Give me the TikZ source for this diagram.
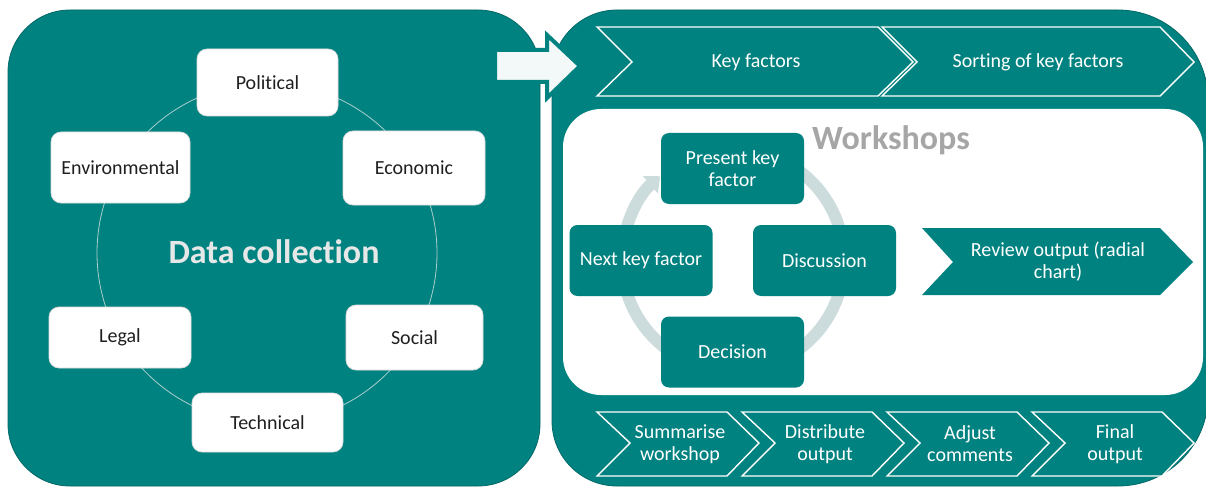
\documentclass[tikz,border=0pt]{standalone}
\usepackage{fontspec}
\setmainfont{Carlito}[Ligatures=CommonOff]
\usetikzlibrary{arrows.meta}
\definecolor{teal1}{RGB}{0,130,128}
\definecolor{tealdark}{RGB}{0,104,102}
\definecolor{ringgray}{RGB}{204,220,220}
\definecolor{circlegray}{RGB}{170,208,206}
\definecolor{wsgray}{RGB}{166,166,166}
\definecolor{dcgray}{RGB}{230,232,232}
\definecolor{arrowfill}{RGB}{243,248,248}
\begin{document}
\begin{tikzpicture}[x=1pt,y=1pt,
  lbl/.style={font=\fontsize{20}{22}\selectfont, align=center},
  whitebox/.style={lbl, draw=black!14, line width=0.7pt, fill=white, rounded corners=10pt, inner sep=0pt, text=black!88},
  tealbox/.style={lbl, fill=teal1, rounded corners=8pt, inner sep=0pt, text=white, minimum width=143pt, minimum height=71pt},
  chev/.style={draw=white, line width=1.4pt, line join=miter},
  chevtext/.style={lbl, text=white}
]
\clip (0,0) rectangle (1206,488);
\fill[white] (0,0) rectangle (1206,488);
% panels
\filldraw[fill=teal1, draw=tealdark, line width=0.8pt, rounded corners=62pt] (8,2) rectangle (540,478);
\filldraw[fill=teal1, draw=tealdark, line width=0.8pt] (552,413) arc[start angle=180,end angle=90,radius=65] -- (1118,478) arc[start angle=90,end angle=0,radius=90] -- (1208,92) arc[start angle=0,end angle=-90,radius=90] -- (617,2) arc[start angle=270,end angle=180,radius=65] -- cycle;
% big arrow between panels
\filldraw[fill=arrowfill, draw=teal1, line width=4pt, line join=miter] (495,438) -- (547,438) -- (547,453) -- (580,422) -- (547,390) -- (547,406) -- (495,406) -- cycle;
% left panel
\draw[circlegray, line width=0.8pt] (267,235) circle[radius=170];
\node (dc) at (274,236) {\fontsize{34}{40}\selectfont\bfseries\color{dcgray}Data collection};
\node[whitebox, minimum width=141pt, minimum height=67pt] (pol) at (267.5,405.5) {Political};
\node[whitebox, minimum width=139pt, minimum height=71pt] (env) at (120.5,320.5) {Environmental};
\node[whitebox, minimum width=142pt, minimum height=74pt] (eco) at (414,320) {Economic};
\node[whitebox, minimum width=142pt, minimum height=61pt] (leg) at (120,150.5) {Legal};
\node[whitebox, minimum width=137pt, minimum height=65pt] (soc) at (414.5,150.5) {Social};
\node[whitebox, minimum width=151pt, minimum height=59pt] (tec) at (267.5,65.5) {Technical};
% top chevrons
\draw[chev] (597,461) -- (878,461) -- (913,426) -- (878,392) -- (597,392) -- (632,426) -- cycle;
\draw[chev] (882,461) -- (1160,461) -- (1194,426) -- (1160,392) -- (882,392) -- (917,426) -- cycle;
\node[chevtext] (kf) at (756,426) {Key factors};
\node[chevtext] (skf) at (1038,426) {Sorting of key factors};
% workshops area
\fill[white, rounded corners=38pt] (563,93) rectangle (1203,379);
\node (ws) at (891,348) {\fontsize{34}{40}\selectfont\bfseries\color{wsgray}Workshops};
\draw[ringgray, line width=12pt, -{Triangle[width=22pt,length=13pt]}] (733,228) ++(85:111) arc[start angle=85, end angle=-229, radius=111];
\node[tealbox] (pkf) at (732.5,319.5) {Present key\\factor};
\node[tealbox] (nkf) at (641,227.5) {Next key factor};
\node[tealbox] (dis) at (824.5,227.5) {Discussion};
\node[tealbox] (dec) at (732.5,136) {Decision};
\fill[teal1] (922,260) -- (1160,260) -- (1193,226) -- (1160,193) -- (922,193) -- (953,226) -- cycle;
\node[chevtext] (rev) at (1058,226) {Review output (radial\\chart)};
% bottom chevrons
\foreach \xo/\nm/\txt in {597/sw/{Summarise\\workshop}, 742/do/{Distribute\\output}, 887/ac/{Adjust\\comments}, 1032/fo/{Final\\output}}{
  \draw[chev] (\xo,76) -- (\xo+130,76) -- (\xo+162,45) -- (\xo+130,12) -- (\xo,12) -- (\xo+33,45) -- cycle;
  \node[chevtext] (\nm) at (\xo+83,44) {\txt};
}
\end{tikzpicture}
\end{document}
